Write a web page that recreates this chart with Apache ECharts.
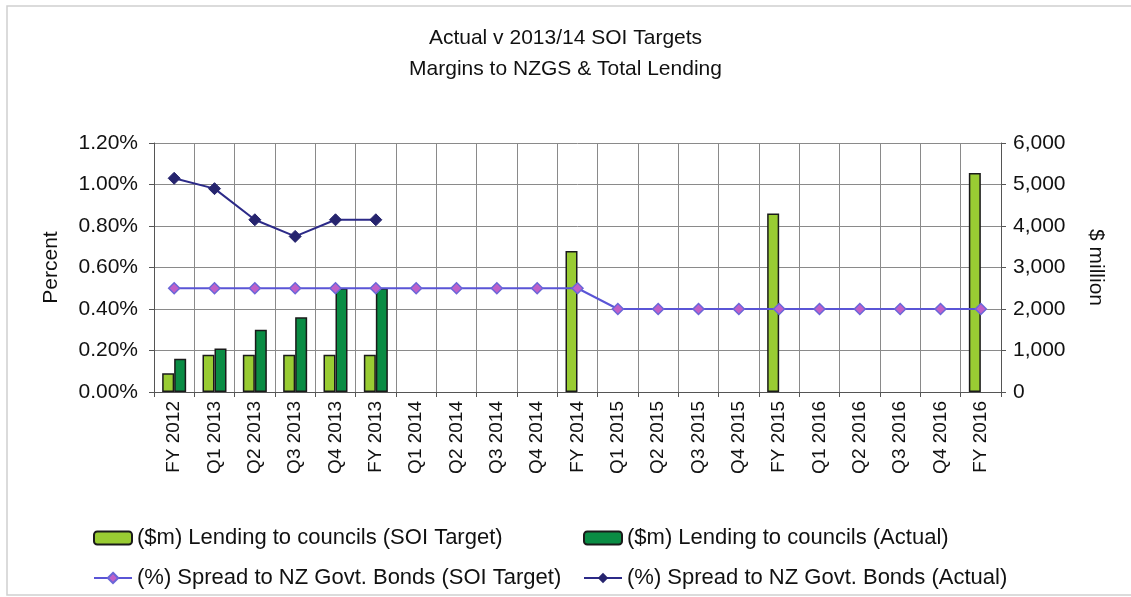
<!DOCTYPE html>
<html>
<head>
<meta charset="utf-8">
<script src="https://cdn.jsdelivr.net/npm/echarts@6/dist/echarts.min.js"></script>
<style>
  html, body { margin: 0; padding: 0; background: #fff; }
  #chart { width: 1131px; height: 597px; }
</style>
</head>
<body>
<div id="chart"></div>
<script>
// categories
const categories = ['FY 2012', 'Q1 2013', 'Q2 2013', 'Q3 2013', 'Q4 2013', 'FY 2013',
    'Q1 2014', 'Q2 2014', 'Q3 2014', 'Q4 2014', 'FY 2014',
    'Q1 2015', 'Q2 2015', 'Q3 2015', 'Q4 2015', 'FY 2015',
    'Q1 2016', 'Q2 2016', 'Q3 2016', 'Q4 2016', 'FY 2016'];

// $m lending
const lendingTarget = [450, 900, 900, 900, 900, 900, null, null, null, null, 3400,
    null, null, null, null, 4300, null, null, null, null, 5280];
const lendingActual = [800, 1050, 1500, 1800, 2500, 2500, null, null, null, null, null,
    null, null, null, null, null, null, null, null, null, null];

// % spread
const spreadTarget = [0.50, 0.50, 0.50, 0.50, 0.50, 0.50, 0.50, 0.50, 0.50, 0.50, 0.50,
    0.40, 0.40, 0.40, 0.40, 0.40, 0.40, 0.40, 0.40, 0.40, 0.40];
const spreadActual = [1.03, 0.98, 0.83, 0.75, 0.83, 0.83, null, null, null, null, null,
    null, null, null, null, null, null, null, null, null, null];

const seriesNames = [
    '($m) Lending to councils (SOI Target)',
    '($m) Lending to councils (Actual)',
    '(%) Spread to NZ Govt. Bonds (SOI Target)',
    '(%) Spread to NZ Govt. Bonds (Actual)'
];

const font = 'Liberation Sans, Arial, sans-serif';
const gridColor = '#8a8a8a';

function makeLegend(name, left, top) {
    return {
        data: [name],
        left: left,
        top: top,
        itemWidth: 38,
        itemHeight: 13,
        itemGap: 6,
        textStyle: { fontFamily: font, fontSize: 22, color: '#111' }
    };
}

const chart = echarts.init(document.getElementById('chart'));

chart.setOption({
    animation: false,
    backgroundColor: '#fff',
    title: {
        text: 'Actual v 2013/14 SOI Targets\nMargins to NZGS & Total Lending',
        left: 'center',
        top: 18,
        textStyle: { fontFamily: font, fontSize: 21, fontWeight: 'normal', color: '#111', lineHeight: 31 }
    },
    graphic: [{
        type: 'rect',
        shape: { x: 7, y: 6, width: 1140, height: 589 },
        style: { fill: 'none', stroke: '#d0d0d0', lineWidth: 1.5 },
        silent: true
    }],
    legend: [
        makeLegend(seriesNames[0], 88, 522),
        makeLegend(seriesNames[1], 578, 522),
        makeLegend(seriesNames[2], 88, 562),
        makeLegend(seriesNames[3], 578, 562)
    ],
    grid: { left: 154, right: 130, top: 143, bottom: 205 },
    xAxis: {
        type: 'category',
        data: categories,
        boundaryGap: true,
        axisLine: { lineStyle: { color: '#555' } },
        axisTick: { show: true, length: 5, lineStyle: { color: '#555' } },
        splitLine: { show: true, lineStyle: { color: gridColor, width: 1 } },
        axisLabel: {
            rotate: 90, interval: 0, margin: 9,
            fontFamily: font, fontSize: 19, color: '#111'
        }
    },
    yAxis: [{
        type: 'value',
        min: 0, max: 1.2, interval: 0.2,
        name: 'Percent',
        nameLocation: 'middle',
        nameGap: 92,
        nameTextStyle: { fontFamily: font, fontSize: 21, color: '#111' },
        axisLine: { show: true, lineStyle: { color: '#555' } },
        axisTick: { show: true, length: 5, lineStyle: { color: '#555' } },
        splitLine: { show: true, lineStyle: { color: gridColor, width: 1 } },
        axisLabel: {
            margin: 16, fontFamily: font, fontSize: 21, color: '#111',
            formatter: v => v.toFixed(2) + '%'
        }
    }, {
        type: 'value',
        min: 0, max: 6000, interval: 1000,
        name: '$ million',
        nameLocation: 'middle',
        nameRotate: -90,
        nameGap: 84,
        nameTextStyle: { fontFamily: font, fontSize: 21, color: '#111' },
        axisLine: { show: true, lineStyle: { color: '#555' } },
        axisTick: { show: true, length: 5, lineStyle: { color: '#555' } },
        splitLine: { show: false },
        axisLabel: {
            margin: 12, fontFamily: font, fontSize: 21, color: '#111',
            formatter: v => v.toLocaleString('en-US')
        }
    }],
    series: [{
        name: seriesNames[0],
        type: 'bar',
        yAxisIndex: 1,
        data: lendingTarget,
        barWidth: 12,
        barGap: '0%',
        itemStyle: { color: '#99cc33', borderColor: '#1a1a1a', borderWidth: 1.5 }
    }, {
        name: seriesNames[1],
        type: 'bar',
        yAxisIndex: 1,
        data: lendingActual,
        barWidth: 12,
        barGap: '0%',
        itemStyle: { color: '#0a8c44', borderColor: '#1a1a1a', borderWidth: 1.5 }
    }, {
        name: seriesNames[2],
        type: 'line',
        yAxisIndex: 0,
        data: spreadTarget,
        symbol: 'diamond',
        symbolSize: 11,
        lineStyle: { color: '#5a55d6', width: 2 },
        itemStyle: { color: '#c060c8', borderColor: '#6a66d8', borderWidth: 1.5 },
        z: 5
    }, {
        name: seriesNames[3],
        type: 'line',
        yAxisIndex: 0,
        data: spreadActual,
        symbol: 'diamond',
        symbolSize: 12,
        lineStyle: { color: '#2c2a88', width: 2 },
        itemStyle: { color: '#26246e', borderColor: '#26246e' },
        z: 5
    }]
});

window.addEventListener('resize', () => chart.resize());
</script>
</body>
</html>
